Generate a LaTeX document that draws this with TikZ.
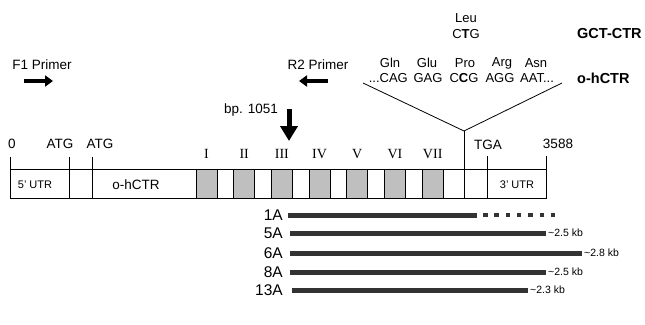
\documentclass[tikz,border=0pt]{standalone}
\usepackage{fontspec}
\setmainfont{Liberation Sans}
\newfontfamily\romfont{Liberation Serif}
\usetikzlibrary{arrows.meta}
\begin{document}
\begin{tikzpicture}[x=1pt,y=-1pt,
  lbl/.style={inner sep=0pt, font=\fontsize{13.5}{15}\selectfont},
  cod/.style={inner sep=0pt, font=\fontsize{13}{15}\selectfont},
  blbl/.style={inner sep=0pt, font=\fontsize{14.5}{16}\selectfont\bfseries},
  sml/.style={inner sep=0pt, font=\fontsize{11}{12}\selectfont},
  kbl/.style={inner sep=0pt, font=\fontsize{10.5}{12}\selectfont, anchor=west},
  clo/.style={inner sep=0pt, font=\fontsize{15.5}{17}\selectfont, anchor=east},
  rom/.style={inner sep=0pt, font=\fontsize{14}{15}\romfont\selectfont},
  gene/.style={draw, line width=0.8pt, inner sep=0pt},
  exon/.style={draw, line width=0.8pt, fill=black!25, minimum width=21pt, minimum height=29pt, inner sep=0pt},
  bar/.style={fill=black!80, inner sep=0pt, minimum height=5pt, anchor=west},
  sq/.style={fill=black!80, inner sep=0pt, minimum width=4.5pt, minimum height=4.5pt},
  thin/.style={line width=0.8pt},
  fat/.style={line width=3.5pt, -{Triangle[length=8pt,width=11pt]}},
]
\useasboundingbox (0,0) rectangle (645,324);

% gene box
\node[gene, minimum width=536pt, minimum height=29pt] (gene) at (278,183.5) {};

% ticks and dividers
\coordinate (t0) at (10,157);
\coordinate (t1) at (69,157);
\coordinate (t2) at (92,157);
\coordinate (t3) at (487,156);
\coordinate (t4) at (546,156);
\coordinate (apex) at (464,131);
\coordinate (vl) at (363,83);
\coordinate (vr) at (562,83);
\draw[thin] (t0) -- (t0 |- gene.north);
\draw[thin] (t4) -- (t4 |- gene.north);
\draw[thin] (t1) -- (t1 |- gene.south);
\draw[thin] (t2) -- (t2 |- gene.south);
\draw[thin] (t3) -- (t3 |- gene.south);
\draw[thin] (apex) -- (apex |- gene.south);
\draw[thin] (vl) -- (apex) -- (vr);

% exons
\foreach \i/\r in {0/I,1/II,2/III,3/IV,4/V,5/VI,6/VII}{
  \node[exon] (ex\i) at (206.5+37.7*\i,183.5) {};
  \node[rom] (rn\i) at (206.5+37.7*\i,154) {\r};
}

% labels on the axis
\node[lbl] (l0) at (12,144) {0};
\node[lbl] (latg1) at (60,144) {ATG};
\node[lbl] (latg2) at (100,144) {ATG};
\node[lbl] (ltga) at (488,145) {TGA};
\node[lbl] (lend) at (558,144) {3588};

% labels in the box
\node[sml] (u5) at (35,185) {5' UTR};
\node[lbl] (ohc) at (136,185) {o-hCTR};
\node[sml] (u3) at (517,185) {3' UTR};

% primers
\node[lbl] (f1) at (42,65) {F1 Primer};
\coordinate (f1a) at (24,81);
\coordinate (f1b) at (53,81);
\draw[fat] (f1a) -- (f1b);
\node[lbl] (r2) at (318,65) {R2 Primer};
\coordinate (r2a) at (328,81);
\coordinate (r2b) at (299,81);
\draw[fat] (r2a) -- (r2b);

% bp. 1051
\node[lbl] (bp) at (251,110) {bp. 1051};
\coordinate (bpa) at (289,109);
\coordinate (bpb) at (289,141);
\draw[line width=5pt, -{Triangle[length=15pt,width=17pt]}] (bpa) -- (bpb);

% codons
\node[cod] (aa1) at (390,63) {Gln};
\node[cod] (aa2) at (427,63) {Glu};
\node[cod] (aa3) at (465,63) {Pro};
\node[cod] (aa4) at (502,63) {Arg};
\node[cod] (aa5) at (536,63) {Asn};
\node[cod, anchor=east] (c1) at (408,78) {...CAG};
\node[cod] (c2) at (428,78) {GAG};
\node[cod] (c3) at (464,78) {C\textbf{C}G};
\node[cod] (c4) at (500,78) {AGG};
\node[cod, anchor=west] (c5) at (520,78) {AAT...};
\node[cod] (leu) at (466,18) {Leu};
\node[cod] (ctg) at (466,34) {C\textbf{T}G};
\node[blbl, anchor=west] (gct) at (577,34) {GCT-CTR};
\node[blbl, anchor=west] (ohc2) at (577,78) {o-hCTR};

% clones
\node[clo] (n1) at (283,215) {1A};
\node[clo] (n5) at (283,233) {5A};
\node[clo] (n6) at (283,253) {6A};
\node[clo] (n8) at (283,272) {8A};
\node[clo] (n13) at (283,290) {13A};

\node[bar, minimum width=189pt] (b1) at (288,215) {};
\foreach \k in {0,...,6}{
  \node[sq] (s\k) at (485.25+11.3*\k,215) {};
}
\node[bar, minimum width=256pt] (b5) at (290,233) {};
\node[bar, minimum width=292pt] (b6) at (290,253) {};
\node[bar, minimum width=256pt] (b8) at (290,272) {};
\node[bar, minimum width=236pt] (b13) at (292,290) {};
\node[kbl] (k5) at (548,233) {\textasciitilde2.5 kb};
\node[kbl] (k6) at (584,253) {\textasciitilde2.8 kb};
\node[kbl] (k8) at (548,272) {\textasciitilde2.5 kb};
\node[kbl] (k13) at (530,290) {\textasciitilde2.3 kb};
\end{tikzpicture}
\end{document}
